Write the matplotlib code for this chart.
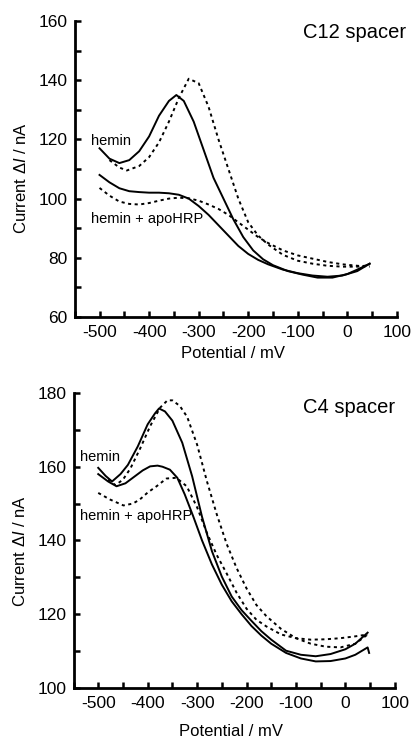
#!/usr/bin/env python3
"""
Differential pulse voltammograms, hemin vs hemin + apoHRP (C12 and C4 spacer).
"""

import matplotlib.pyplot as plt
from matplotlib.ticker import MultipleLocator

# ---- C12 spacer (top panel) ----
c12_hemin_solid_x = [-500, -480, -460, -440, -420, -400, -380, -360, -345, -330, -310, -290,
                     -270, -250, -230, -210, -190, -170, -150, -120, -90, -60, -30, 0, 20, 45]
c12_hemin_solid_y = [117, 113.5, 112, 113, 116, 121, 128, 133, 135, 133, 126, 116.5,
                     107, 100, 93, 87, 82.5, 79.5, 77.5, 75.5, 74.3, 73.3, 73.3, 74.5, 76, 78]

c12_hemin_dash_x = [-480, -460, -445, -420, -400, -380, -360, -340, -320, -300, -280, -260,
                    -240, -220, -200, -180, -160, -130, -100, -70, -40, -10, 20, 45]
c12_hemin_dash_y = [113, 110.5, 109.5, 111, 114, 119, 126, 134, 140.5, 139, 131, 120,
                    110, 100, 92, 87.5, 84.5, 81, 79, 78, 77.3, 77, 77, 77.5]

c12_apo_solid_x = [-500, -480, -460, -440, -420, -400, -380, -360, -340, -320, -300, -280,
                   -260, -240, -220, -200, -180, -160, -130, -100, -70, -40, -10, 20, 45]
c12_apo_solid_y = [108, 105.5, 103.5, 102.5, 102.2, 102, 102, 101.8, 101.3, 100, 97.5, 94.5,
                   91, 87.5, 84, 81.3, 79.3, 77.8, 76, 74.8, 74, 73.6, 74, 75.5, 78]

c12_apo_dash_x = [-500, -480, -460, -440, -420, -400, -380, -360, -340, -320, -300, -280,
                  -260, -240, -220, -200, -180, -160, -130, -100, -70, -40, -10, 20, 45]
c12_apo_dash_y = [103.6, 101, 99, 98.2, 98, 98.5, 99.3, 100, 100.3, 100.1, 99.3, 98,
                  96.5, 94.5, 92, 89.5, 87, 85, 82.5, 80.8, 79.7, 78.6, 77.8, 77.3, 77]

# ---- C4 spacer (bottom panel) ----
c4_hemin_solid_x = [-500, -485, -472, -455, -440, -420, -400, -385, -377, -365, -350, -330,
                    -310, -290, -270, -250, -230, -210, -190, -170, -150, -120, -90, -60,
                    -30, 0, 20, 45]
c4_hemin_solid_y = [159.7, 157.5, 156, 158, 160.5, 165.5, 171.5, 174.5, 175.8, 175, 172.5, 166.5,
                    157.4, 146.4, 137.1, 130.2, 124.8, 121.1, 118.2, 115.4, 113.1, 110.1, 109, 108.6,
                    109.2, 110.5, 112, 115]

c4_hemin_dash_x = [-480, -465, -450, -435, -415, -395, -375, -360, -350, -335, -320, -300,
                   -280, -260, -240, -220, -200, -180, -160, -130, -100, -70, -40, -10, 20, 45]
c4_hemin_dash_y = [156.5, 155, 156.5, 159.5, 165, 171, 176, 178, 178, 176.5, 173.5, 166,
                   156, 147, 139, 132.5, 127, 122.5, 119.5, 116, 113.5, 112, 111.2, 111, 112, 114.5]

c4_apo_solid_x = [-500, -480, -463, -445, -430, -410, -395, -380, -370, -355, -340, -325,
                  -308, -290, -270, -250, -230, -210, -190, -170, -150, -120, -90, -60,
                  -30, 0, 20, 45, 48]
c4_apo_solid_y = [158, 156, 154.7, 155.5, 157, 159, 160.1, 160.3, 160, 159.2, 157, 152.5,
                  146.6, 140, 133.5, 128, 123.5, 120, 116.8, 114.2, 112, 109.5, 108, 107.2,
                  107.3, 108, 109, 111, 109.5]

c4_apo_dash_x = [-500, -476, -449, -430, -416, -400, -382, -362, -342, -321, -300, -280,
                 -260, -240, -220, -200, -180, -160, -130, -100, -70, -40, -10, 20, 45]
c4_apo_dash_y = [152.9, 151.1, 149.5, 150, 151.1, 153, 154.7, 156.8, 157, 154.7, 149, 142,
                 136, 131, 125.8, 121.5, 118.5, 116.7, 114.5, 113.5, 113.1, 113.2, 113.5, 114, 114.5]

plt.rcParams.update({
    'font.family': 'Liberation Sans',
    'mathtext.fontset': 'custom',
    'mathtext.rm': 'Liberation Sans',
    'mathtext.it': 'Liberation Sans:italic',
    'axes.unicode_minus': False,
    'font.size': 12,
})

DASH = (0, (1.6, 1.8))

fig = plt.figure(figsize=(4.13, 7.38), dpi=100)
ax_top = fig.add_axes([0.181, 0.5705, 0.780, 0.401])
ax_bot = fig.add_axes([0.178, 0.0678, 0.778, 0.3997])


def style_axes(ax, ylim, xlabel_y, ylabel_y):
    ax.set_xlim(-550, 100)
    ax.set_ylim(*ylim)
    for side in ('top', 'right'):
        ax.spines[side].set_visible(False)
    for side in ('left', 'bottom'):
        ax.spines[side].set_linewidth(2)
    ax.xaxis.set_major_locator(MultipleLocator(100))
    ax.xaxis.set_minor_locator(MultipleLocator(50))
    ax.yaxis.set_major_locator(MultipleLocator(20))
    ax.yaxis.set_minor_locator(MultipleLocator(10))
    ax.tick_params(which='both', direction='in', width=1.8, length=4, labelsize=12.5)
    ax.tick_params(axis='x', pad=5.5)
    ax.tick_params(axis='y', pad=5)
    ax.set_xlabel('Potential / mV', fontsize=12)
    ax.set_ylabel('Current $\\Delta\\mathit{I}$ / nA', fontsize=12)
    ax.xaxis.set_label_coords(0.49, xlabel_y)
    ax.yaxis.set_label_coords(-0.142, ylabel_y)


# top panel
ax_top.plot(c12_hemin_solid_x, c12_hemin_solid_y, color='black', lw=1.4)
ax_top.plot(c12_hemin_dash_x, c12_hemin_dash_y, color='black', lw=1.4, linestyle=DASH)
ax_top.plot(c12_apo_solid_x, c12_apo_solid_y, color='black', lw=1.4)
ax_top.plot(c12_apo_dash_x, c12_apo_dash_y, color='black', lw=1.4, linestyle=DASH)
style_axes(ax_top, (60, 160), -0.098, 0.47)
ax_top.text(1.03, 0.96, 'C12 spacer', transform=ax_top.transAxes, ha='right', va='center', fontsize=14.5)
ax_top.text(0.05, 0.595, 'hemin', transform=ax_top.transAxes, ha='left', va='center', fontsize=10.5)
ax_top.text(0.05, 0.33, 'hemin + apoHRP', transform=ax_top.transAxes, ha='left', va='center', fontsize=10.5)

# bottom panel
ax_bot.plot(c4_hemin_solid_x, c4_hemin_solid_y, color='black', lw=1.4)
ax_bot.plot(c4_hemin_dash_x, c4_hemin_dash_y, color='black', lw=1.4, linestyle=DASH)
ax_bot.plot(c4_apo_solid_x, c4_apo_solid_y, color='black', lw=1.4)
ax_bot.plot(c4_apo_dash_x, c4_apo_dash_y, color='black', lw=1.4, linestyle=DASH)
style_axes(ax_bot, (100, 180), -0.122, 0.464)
ax_bot.text(1.0, 0.95, 'C4 spacer', transform=ax_bot.transAxes, ha='right', va='center', fontsize=14.5)
ax_bot.text(0.02, 0.783, 'hemin', transform=ax_bot.transAxes, ha='left', va='center', fontsize=10.5)
ax_bot.text(0.02, 0.583, 'hemin + apoHRP', transform=ax_bot.transAxes, ha='left', va='center', fontsize=10.5)

plt.savefig('out.png', dpi=100)
plt.close()
